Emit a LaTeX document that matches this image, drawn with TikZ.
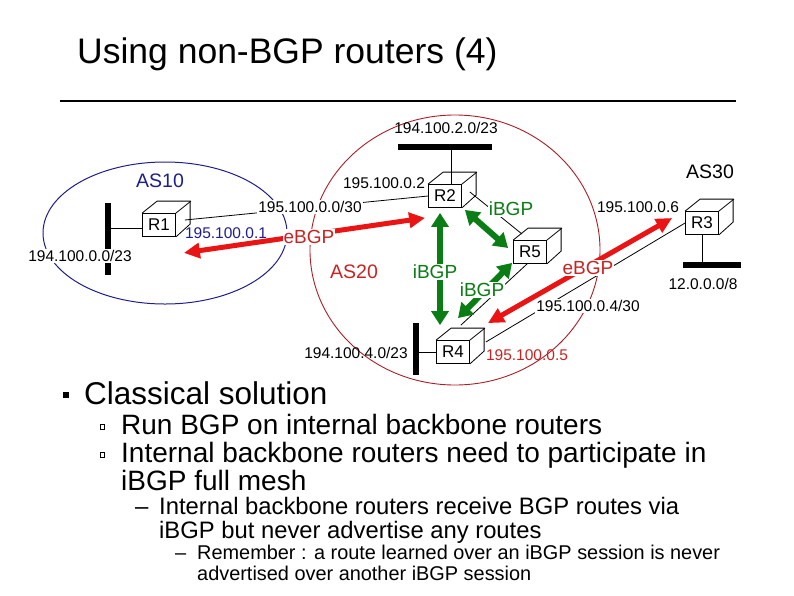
\documentclass[tikz,border=0pt]{standalone}
\usepackage{fontspec}
\setmainfont{Liberation Sans}
\usetikzlibrary{arrows.meta,calc}
\definecolor{asblue}{RGB}{30,30,140}
\definecolor{asred}{RGB}{200,35,35}
\definecolor{circred}{RGB}{170,30,40}
\definecolor{arrred}{RGB}{235,20,20}
\definecolor{bgpgreen}{RGB}{10,125,20}
\newcommand\rtrfaces[1]{%
  \draw[rtrline] (#1.north west) -- ++(15,-12) -- ++(33,0) -- ++(0,23) -- (#1.south east);
  \draw[rtrline] (#1.north east) -- ++(15,-12);}
\begin{document}
\begin{tikzpicture}[x=1pt,y=-1pt,
  rtr/.style={draw, line width=0.8pt, fill=white, minimum width=33pt, minimum height=23pt, inner sep=0pt, font=\fontsize{17}{17}\selectfont},
  rtrline/.style={line width=0.8pt},
  netbar/.style={fill=black, inner sep=0pt, draw=none},
  link/.style={line width=0.8pt},
  lbl/.style={inner sep=1pt, font=\fontsize{15.5}{15.5}\selectfont},
  wlbl/.style={lbl, fill=white},
  aslbl/.style={inner sep=1pt, font=\fontsize{19.5}{19.5}\selectfont},
  bgplbl/.style={inner sep=1pt, fill=white, font=\fontsize{19}{19}\selectfont},
  redarrow/.style={draw=arrred, line width=5pt, {Triangle[length=16pt,width=15pt]}-{Triangle[length=16pt,width=15pt]}},
  greenarrow/.style={draw=bgpgreen, line width=6pt, {Triangle[length=14pt,width=17pt]}-{Triangle[length=14pt,width=17pt]}},
  txt/.style={anchor=base west, inner sep=0pt}
]
\useasboundingbox (0,0) rectangle (794,595);

% title and rule
\node[txt, font=\fontsize{35.5}{36}\selectfont] (title) at (77,63) {Using non-BGP routers (4)};
\draw[line width=2pt] (60,101) -- (736,101);

% AS regions
\draw[asblue, line width=1pt] (165,233) ellipse [x radius=122, y radius=71];
\draw[circred, line width=0.9pt] (455,250) ellipse [x radius=145, y radius=135];

% networks
\node[netbar, minimum width=6pt, minimum height=72pt] (N1) at (108,239) {};
\node[netbar, minimum width=94pt, minimum height=6pt] (N2) at (445,147) {};
\node[netbar, minimum width=58pt, minimum height=6pt] (N3) at (712,265) {};
\node[netbar, minimum width=6pt, minimum height=52pt] (N4) at (416,349) {};

% routers
\node[rtr] (R1) at (159,225) {R1};
\node[rtr] (R2) at (445,196) {R2};
\node[rtr] (R5) at (530,252) {R5};
\node[rtr] (R3) at (702,223) {R3};
\node[rtr] (R4) at (453,352) {R4};
\rtrfaces{R1}\rtrfaces{R2}\rtrfaces{R5}\rtrfaces{R3}\rtrfaces{R4}

% links
\draw[link] ($(R1.west)+(0,3)$) -- ($(R1.west -| N1.east)+(0,3)$);
\draw[link] ($(R2.north)+(6,0)$) -- ($(R2.north |- N2.south)+(6,0)$);
\draw[link] (R3.south) -- (R3.south |- N3.north);
\draw[link] (R4.west) -- (R4.west -| N4.east);
\draw[link] ($(R1.east)+(9,-5)$) -- (R2.west);
\draw[link] ($(R2.east)+(8,-4)$) -- ($(R5.north west)+(9,-6)$);
\draw[link] ($(R5.south west)+(14,0)$) -- ($(R4.north east)+(-9,-15)$);
\draw[link] ($(R4.east)+(16,-10)$) -- (R3.west);

% BGP sessions
\draw[redarrow] ($(R2.south west)+(-3,10)$) -- ($(R1.south east)+(8,16)$);
\draw[redarrow] ($(R4.north east)+(18,-17)$) -- ($(R3.west)+(-13,-5)$);
\draw[greenarrow] ($(R2.south)+(-5,5)$) -- ($(R4.north)+(-13,-15)$);
\draw[greenarrow] ($(R2.south east)+(3,2)$) -- ($(R5.west)+(-5,-4)$);
\draw[greenarrow] ($(R5.south west)+(-1,-1)$) -- ($(R4.north)+(5,-22)$);

% labels
\node[lbl] (l1) at (446,128) {194.100.2.0/23};
\node[aslbl, text=asblue] (as10) at (160,181) {AS10};
\node[lbl] (l2) at (384,183) {195.100.0.2};
\node[wlbl] (l3) at (310,207) {195.100.0.0/30};
\node[lbl, text=asblue] (l4) at (226,233) {195.100.0.1};
\node[bgplbl, text=asred] (e1) at (309,237) {eBGP};
\node[wlbl] (l5) at (80,256) {194.100.0.0/23};
\node[aslbl, text=asred] (as20) at (354,272) {AS20};
\node[bgplbl, text=bgpgreen] (i1) at (435,272) {iBGP};
\node[bgplbl, text=bgpgreen] (i2) at (482,290) {iBGP};
\node[bgplbl, text=bgpgreen] (i3) at (511,209) {iBGP};
\node[aslbl] (as30) at (710,172) {AS30};
\node[lbl] (l6) at (638,207) {195.100.0.6};
\node[bgplbl, text=asred] (e2) at (588,268) {eBGP};
\node[lbl] (l7) at (703,284) {12.0.0.0/8};
\node[wlbl] (l8) at (588,306) {195.100.0.4/30};
\node[lbl] (l9) at (356,353) {194.100.4.0/23};
\node[lbl, text=asred] (l10) at (527,355) {195.100.0.5};

% bullet text
\node[fill=black, inner sep=0pt, minimum size=6pt] (b1) at (66,395) {};
\node[txt, font=\fontsize{31.5}{32}\selectfont] (t1) at (84,404) {Classical solution};
\node[draw, line width=0.6pt, inner sep=0pt, minimum width=4pt, minimum height=5pt] (b2) at (102,427) {};
\node[txt, font=\fontsize{28}{28}\selectfont] (t2) at (121,434) {Run BGP on internal backbone routers};
\node[draw, line width=0.6pt, inner sep=0pt, minimum width=4pt, minimum height=5pt] (b3) at (102,455) {};
\node[txt, font=\fontsize{28}{28}\selectfont] (t3) at (121,462) {Internal backbone routers need to participate in};
\node[txt, font=\fontsize{28}{28}\selectfont] (t4) at (121,490) {iBGP full mesh};
\node[txt, font=\fontsize{24}{24}\selectfont] (d1) at (135,514) {–};
\node[txt, font=\fontsize{23.8}{24}\selectfont] (t5) at (159,514) {Internal backbone routers receive BGP routes via};
\node[txt, font=\fontsize{23.8}{24}\selectfont] (t6) at (159,538) {iBGP but never advertise any routes};
\node[txt, font=\fontsize{20}{20}\selectfont] (d2) at (175,559) {–};
\node[txt, font=\fontsize{19.9}{20}\selectfont] (t7) at (197,559) {Remember : a route learned over an iBGP session is never};
\node[txt, font=\fontsize{19.9}{20}\selectfont] (t8) at (197,580) {advertised over another iBGP session};
\end{tikzpicture}
\end{document}
